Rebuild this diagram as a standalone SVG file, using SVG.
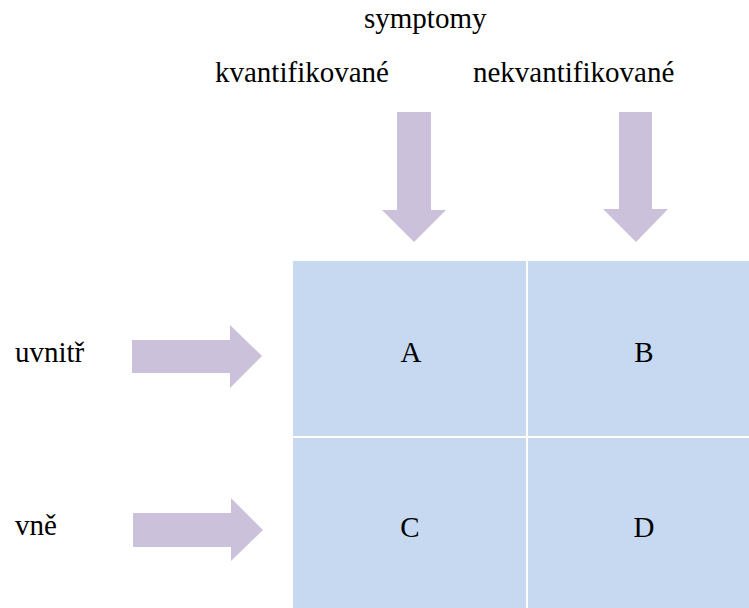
<svg xmlns="http://www.w3.org/2000/svg" width="749" height="608" viewBox="0 0 749 608">
  <style>
    .lbl { font-family: "Liberation Serif", "Times New Roman", serif; font-size: 29px; fill: #000; }
    .cell { fill: #C6D9F1; }
    .arrow { fill: #CCC1DA; }
  </style>
  <rect width="749" height="608" fill="#fff"/>

  <!-- column and row headings -->
  <text class="lbl" x="364" y="28">symptomy</text>
  <text class="lbl" x="215" y="82">kvantifikované</text>
  <text class="lbl" x="473" y="82">nekvantifikované</text>
  <text class="lbl" x="15" y="362">uvnitř</text>
  <text class="lbl" x="15" y="535">vně</text>

  <!-- 2x2 matrix -->
  <g id="cellA">
    <rect class="cell" x="293" y="261" width="233" height="175"/>
    <text class="lbl" x="411" y="362" text-anchor="middle">A</text>
  </g>
  <g id="cellB">
    <rect class="cell" x="528" y="261" width="221" height="175"/>
    <text class="lbl" x="644" y="362" text-anchor="middle">B</text>
  </g>
  <g id="cellC">
    <rect class="cell" x="293" y="438" width="233" height="170"/>
    <text class="lbl" x="410" y="537" text-anchor="middle">C</text>
  </g>
  <g id="cellD">
    <rect class="cell" x="528" y="438" width="221" height="170"/>
    <text class="lbl" x="644" y="537" text-anchor="middle">D</text>
  </g>

  <!-- block arrows -->
  <g id="connectors">
    <polygon class="arrow" points="397,112 431,112 431,210 446,210 414,242 382,210 397,210"/>
    <polygon class="arrow" points="619,112 652,112 652,209 668,209 636,242 603,209 619,209"/>
    <polygon class="arrow" points="132,340 230,340 230,325 262,356 230,388 230,373 132,373"/>
    <polygon class="arrow" points="133,513 231,513 231,498 263,530 231,561 231,547 133,547"/>
  </g>
</svg>
